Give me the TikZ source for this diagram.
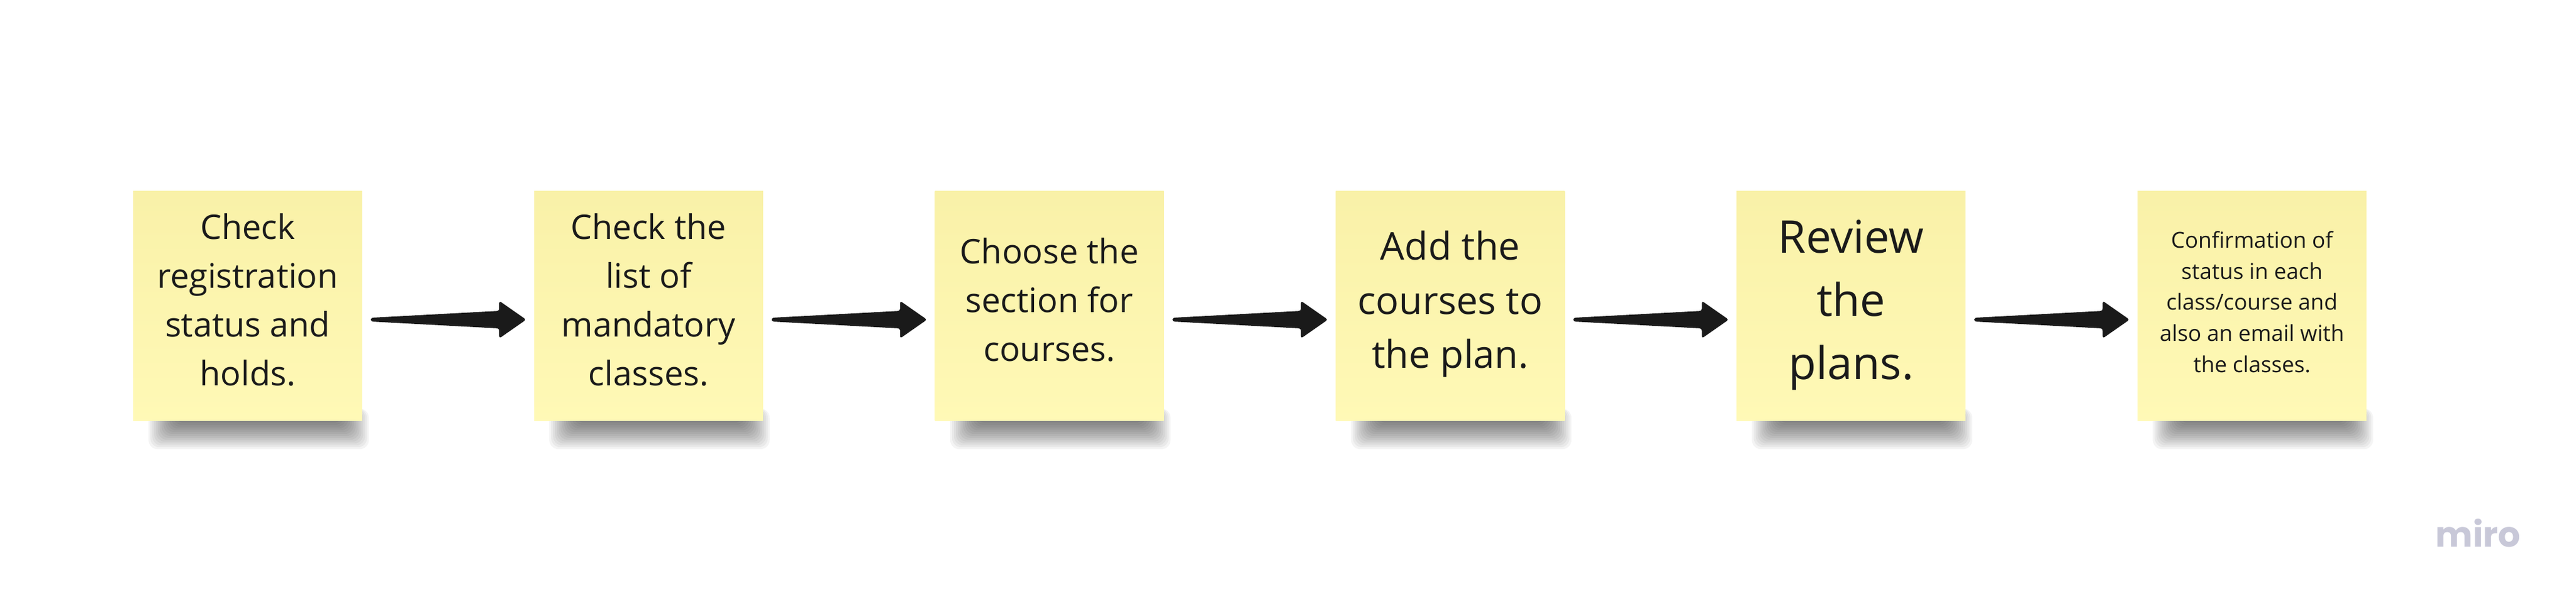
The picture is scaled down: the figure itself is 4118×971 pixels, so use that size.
\documentclass[tikz,border=0pt]{standalone}
\usepackage{fontspec}
\setmainfont{Open Sans}
\newfontfamily\logofont{Poppins}
\usepackage{xcolor}
\usepackage{tikz}
\usetikzlibrary{calc, positioning}

\definecolor{stickyyellow}{HTML}{FFF9B6}
\definecolor{stickytop}{HTML}{F9F1A8}
\definecolor{inkblack}{HTML}{1A1A1A}
\definecolor{logogray}{HTML}{C8C8D8}

\pgfdeclarelayer{background}
\pgfsetlayers{background,main}

% soft shadow under a sticky note
\newcommand{\noteshadow}[1]{%
  \begin{pgfonlayer}{background}
    \foreach \k in {0,...,15}
      \fill[note_shadow] ($(#1.south west)+(70-3*\k,-20)$) rectangle ($(#1.south east)+(-35+3*\k,3*\k)$);
  \end{pgfonlayer}
}
% tapered arrow from one note to the next
\newcommand{\flowarrow}[2]{%
  \coordinate (#1-tail) at ($(#1.east)+(13,22)$);
  \coordinate (#2-tip) at ($(#2.west)+(-12,22)$);
  \fill[flow_arrow] ($(#1-tail)+(0,-3)$) -- ($(#2-tip)+(-43,-14)$) -- ($(#2-tip)+(-43,-30)$) -- (#2-tip)
    -- ($(#2-tip)+(-43,30)$) -- ($(#2-tip)+(-43,14)$) -- ($(#1-tail)+(0,3)$) -- cycle;
}

\begin{document}
\begin{tikzpicture}[x=0.1mm, y=-0.1mm, node distance=27.34mm]
            % Block styles
            \tikzstyle{sticky} = [rectangle, top color=stickytop, bottom color=stickyyellow, text=inkblack, align=center, minimum width=36.6mm, minimum height=36.7mm, inner sep=0pt, text depth=2mm]
            \tikzstyle{note_shadow} = [fill=black, opacity=0.045, rounded corners=1.5mm]
            \tikzstyle{flow_arrow} = [fill=inkblack, rounded corners=0.35mm]
            \useasboundingbox (0,0) rectangle (4118,971);
            % Sticky notes
            \node[sticky, font=\fontsize{15.4}{22.2}\selectfont] (check_status) at (396,489) {Check\\registration\\status and\\holds.};
            \node[sticky, right=of check_status, font=\fontsize{15.4}{22.2}\selectfont] (check_list) {Check the\\list of\\mandatory\\classes.};
            \node[sticky, right=of check_list, font=\fontsize{15.4}{22.2}\selectfont] (choose_section) {Choose the\\section for\\courses.};
            \node[sticky, right=of choose_section, font=\fontsize{17.4}{24.6}\selectfont] (add_courses) {Add the\\courses to\\the plan.};
            \node[sticky, right=of add_courses, font=\fontsize{20.5}{28.8}\selectfont] (review_plans) {Review\\the\\plans.};
            \node[sticky, right=of review_plans, text depth=1.3mm, font=\fontsize{10}{14.2}\selectfont] (confirmation) {Confirmation of\\status in each\\class/course and\\also an email with\\the classes.};
            \foreach \n in {check_status, check_list, choose_section, add_courses, review_plans, confirmation}
              \noteshadow{\n};
            % Connections
            \flowarrow{check_status}{check_list}
            \flowarrow{check_list}{choose_section}
            \flowarrow{choose_section}{add_courses}
            \flowarrow{add_courses}{review_plans}
            \flowarrow{review_plans}{confirmation}
            % Logo
            \node[anchor=base west, inner sep=0pt, text=logogray, font=\logofont\bfseries\fontsize{16}{20}\selectfont] (miro) at (3893,874) {miro};
        \end{tikzpicture}
\end{document}
